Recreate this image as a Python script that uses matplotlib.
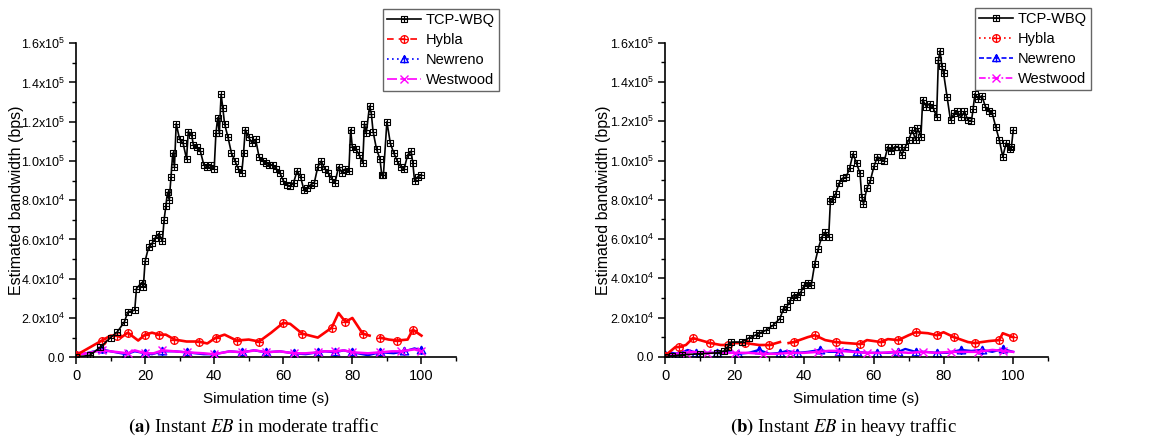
import numpy as np
import matplotlib
matplotlib.use("Agg")
from matplotlib import pyplot as plt
from matplotlib.path import Path
from matplotlib.lines import Line2D
from matplotlib.ticker import MultipleLocator, FuncFormatter

plt.rcParams['font.family'] = ['Liberation Sans', 'DejaVu Sans']

SCALE = 1e4  # values below are in units of 10^4 bps

# ---- panel (a): moderate traffic ----
t_wbq_a = [0, 4, 7, 10, 12, 14, 15, 17, 17.5, 19, 19.5, 20, 21, 22, 23, 24, 25, 25.5, 26, 26.5,
           27, 27.5, 28, 28.5, 29, 30, 31, 32, 32.5, 33.5, 34, 35, 36, 37, 38, 39, 40, 40.5,
           41, 41.5, 42, 42.5, 43, 44, 45, 46, 47, 48, 48.5, 49, 50, 51, 52, 53, 54, 55, 56,
           57, 58, 59, 60, 61, 62, 63, 64, 65, 66, 67, 68, 69, 70, 71, 72, 73, 74, 75, 76, 77,
           78, 79, 79.5, 80, 81, 82, 83, 83.5, 84, 85, 85.5, 86, 87, 88, 88.5, 89, 90, 91, 92,
           93, 94, 95, 96, 97, 97.5, 98, 99, 100]
wbq_a = [0, 0.1, 0.5, 1.0, 1.3, 1.8, 2.3, 2.4, 3.5, 3.8, 3.6, 4.9, 5.6, 5.8, 6.1, 6.3, 5.9, 7.0, 7.7, 8.4,
         8.0, 9.2, 10.4, 9.7, 11.9, 11.1, 10.9, 10.1, 11.5, 11.3, 10.8, 10.7, 10.5, 9.8, 9.7, 9.8, 9.6, 11.4,
         12.2, 11.4, 13.4, 12.7, 11.9, 11.2, 10.4, 10.0, 9.6, 9.4, 10.4, 11.6, 11.2, 10.9, 11.1, 10.2, 10.0, 9.9, 9.8,
         9.8, 9.6, 9.4, 9.0, 8.8, 8.7, 8.9, 9.5, 9.2, 8.5, 8.6, 8.8, 8.9, 9.7, 10.0, 9.6, 9.4, 9.1, 8.9, 9.7, 9.4,
         9.6, 9.5, 11.6, 10.7, 10.6, 10.3, 9.9, 11.9, 11.4, 12.8, 12.4, 11.5, 10.6, 10.1, 9.3, 9.3, 12.0, 10.9, 10.4,
         10.0, 9.7, 9.6, 10.3, 10.5, 9.9, 9.0, 9.2, 9.3]

t_hybla_a = [0, 4, 7.5, 10, 12, 13, 15, 18, 20, 22, 24, 26, 28.5, 32, 35.5, 38, 40.5, 43, 46.5, 50,
             53, 56.5, 60, 62, 65.5, 70, 74, 76, 78, 80, 83, 85, 86, 87.5, 88, 90.5, 93, 96, 97.5, 100]
hybla_a = [0.1, 0.5, 0.85, 1.1, 1.1, 1.0, 1.25, 0.85, 1.15, 1.25, 1.15, 1.15, 0.9, 0.8, 0.8, 0.7, 1.0, 1.15, 0.85, 0.9,
           0.8, 1.25, 1.75, 1.7, 1.2, 1.0, 1.5, 2.25, 1.8, 2.0, 1.2, 1.1, np.nan, np.nan, 1.0, 0.9, 0.85, 0.9, 1.4, 1.1]

t_newreno_a = [0, 3, 7.5, 10, 14.5, 17, 20, 22, 25, 28.5, 32, 37, 40, 44.5, 48, 51.5, 55, 59, 63, 66.5,
               70, 72, 75, 77.5, 80, 84.5, 88, 92, 95, 98, 100]
newreno_a = [0.1, 0.2, 0.4, 0.3, 0.15, 0.3, 0.2, 0.15, 0.3, 0.3, 0.25, 0.15, 0.15, 0.3, 0.25, 0.35, 0.25, 0.3, 0.2, 0.15,
             0.25, 0.3, 0.25, 0.35, 0.25, 0.1, 0.25, 0.2, 0.3, 0.45, 0.35]

t_westwood_a = [0, 3, 7.5, 10, 15, 17, 20, 22.5, 25, 28.5, 32, 37, 40, 44.5, 48, 52, 55, 59, 63, 66.5,
                70, 72, 75, 77.5, 80, 84.5, 88, 91.5, 94, 98, 100]
westwood_a = [0.1, 0.2, 0.35, 0.3, 0.2, 0.35, 0.2, 0.2, 0.35, 0.3, 0.25, 0.2, 0.15, 0.3, 0.25, 0.35, 0.25, 0.3, 0.2, 0.2,
              0.25, 0.3, 0.3, 0.35, 0.25, 0.2, 0.25, 0.3, 0.3, 0.4, 0.3]

# ---- panel (b): heavy traffic ----
t_wbq_b = [0, 2, 5, 10, 15, 17, 18, 19, 22, 24, 26, 27, 29, 31, 33, 34, 35, 36, 37, 38, 39, 40, 41, 42,
           43, 44, 45, 46, 47, 47.5, 48, 49, 50, 51, 52, 53, 54, 55, 56, 56.5, 57, 58, 59, 60, 61, 62,
           63, 64, 65, 66, 67, 68, 69, 70, 71, 72, 72.5, 73.5, 74, 75, 76, 77, 78, 78.5, 79, 79.5, 80,
           81, 82, 83, 84, 85, 86, 87, 88, 88.5, 89, 90, 91, 92, 93, 94, 95, 96, 97, 98, 99, 99.5, 100]
wbq_b = [0, 0.05, 0.1, 0.15, 0.2, 0.3, 0.5, 0.75, 0.75, 0.95, 1.1, 1.2, 1.35, 1.6, 1.95, 2.45, 2.55, 2.9, 3.15, 3.05, 3.3, 3.65, 3.75, 3.65,
         4.75, 5.5, 6.1, 6.35, 6.1, 7.95, 8.05, 8.3, 8.85, 9.1, 9.15, 9.6, 10.35, 9.85, 9.35, 8.15, 7.8, 8.6, 9.0, 9.7, 10.2, 10.05,
         10.0, 10.7, 10.5, 10.7, 10.7, 10.3, 10.7, 11.05, 11.55, 11.05, 11.65, 11.2, 13.1, 12.75, 12.9, 12.7, 12.2, 15.1, 15.6, 14.8, 14.45,
         13.25, 12.05, 12.4, 12.5, 12.2, 12.5, 12.05, 12.0, 12.65, 13.4, 13.15, 13.3, 12.75, 12.5, 12.4, 11.7, 11.05, 10.2, 10.9, 10.6, 10.7, 11.55]

t_hybla_b = [0, 3, 4, 6, 8, 10, 13, 16, 18, 20, 23, 27, 30, 33, 34, 35.5, 37, 41, 43, 46, 49, 52, 56, 58,
             62, 64, 67, 70, 72, 75.5, 78, 80, 83, 87, 89, 93, 96, 97, 100]
hybla_b = [0.05, 0.5, 0.5, 0.6, 0.95, 0.85, 0.7, 0.6, 0.6, 0.7, 0.7, 0.6, 0.6, 0.75, np.nan, 0.7, 0.75, 1.0, 1.1, 0.85, 0.75, 0.7, 0.65, 0.85,
           0.75, 0.9, 0.85, 1.1, 1.25, 1.2, 1.1, 1.25, 1.0, 0.75, 0.7, 0.8, 0.85, 1.2, 1.0]

t_newreno_b = [0, 2, 4, 6.5, 9, 12, 15, 18, 21, 24, 27, 30, 33, 35, 38, 41, 44.5, 47, 50, 52, 55, 58, 61, 64,
               67, 69, 72, 75, 78, 81, 85, 88, 91, 94, 97, 100]
newreno_b = [0.1, 0.2, 0.15, 0.35, 0.2, 0.2, 0.2, 0.25, 0.15, 0.2, 0.35, 0.15, 0.2, 0.3, 0.2, 0.25, 0.35, 0.25, 0.25, 0.35, 0.25, 0.2, 0.2, 0.2,
             0.25, 0.4, 0.25, 0.25, 0.2, 0.2, 0.35, 0.3, 0.35, 0.25, 0.4, 0.25]

t_westwood_b = [0, 3, 6, 8, 12, 16, 20, 24, 28, 32, 36, 40, 44, 47, 50, 54, 58, 62, 66, 70, 74, 78, 82, 86,
                90, 94, 97, 100]
westwood_b = [0.05, 0.15, 0.2, 0.25, 0.2, 0.2, 0.2, 0.2, 0.15, 0.15, 0.2, 0.2, 0.25, 0.3, 0.3, 0.25, 0.2, 0.2, 0.25, 0.2, 0.25, 0.2, 0.25, 0.25,
              0.25, 0.35, 0.3, 0.25]

labels = ['TCP-WBQ', 'Hybla', 'Newreno', 'Westwood']
captions = [(r'$\mathbf{(a)}$ Instant $\mathit{EB}$ in moderate traffic'),
            (r'$\mathbf{(b)}$ Instant $\mathit{EB}$ in heavy traffic')]


def square_plus():
    verts = [(-1, -1), (1, -1), (1, 1), (-1, 1), (-1, -1), (-1, 0), (1, 0), (0, -1), (0, 1)]
    codes = [Path.MOVETO, Path.LINETO, Path.LINETO, Path.LINETO, Path.CLOSEPOLY,
             Path.MOVETO, Path.LINETO, Path.MOVETO, Path.LINETO]
    return Path(verts, codes)


def circle_plus():
    circ = Path.unit_circle()
    cross = Path([(-1, 0), (1, 0), (0, -1), (0, 1)],
                 [Path.MOVETO, Path.LINETO, Path.MOVETO, Path.LINETO])
    return Path.make_compound_path(circ, cross)


def tri_line():
    verts = [(-1, -0.8), (1, -0.8), (0, 1), (-1, -0.8), (0, -1), (0, 1)]
    codes = [Path.MOVETO, Path.LINETO, Path.LINETO, Path.CLOSEPOLY, Path.MOVETO, Path.LINETO]
    return Path(verts, codes)


M_SQ = square_plus()
M_CI = circle_plus()
M_TR = tri_line()


def fmt_y(v, pos):
    if abs(v) < 1:
        return '0.0'
    if v < 0:
        return ''
    e = int(np.floor(np.log10(v) + 1e-9))
    m = v / 10 ** e
    return r'$\mathregular{%.1fx10^{%d}}$' % (m, e)


def draw_panel(ax, data, legend_styles, legend_anchor):
    (tw, w), (th, h), (tn, n), (tx, x) = data
    ax.plot(tn, np.array(n) * SCALE, color='blue', lw=1.6, marker=M_TR, ms=6,
            mfc='none', mew=1.0, markevery=2, zorder=2)
    ax.plot(tx, np.array(x) * SCALE, color='magenta', lw=1.8, marker='x', ms=6,
            mew=1.0, markevery=2, zorder=3)
    ax.plot(th, np.array(h) * SCALE, color='red', lw=1.9, marker=M_CI, ms=5.5,
            mfc='none', mew=0.9, markevery=2, zorder=4)
    ax.plot(tw, np.array(w) * SCALE, color='black', lw=1.2, marker=M_SQ, ms=4,
            mfc='none', mew=0.8, markevery=1, zorder=5)

    ax.set_xlim(0, 110)
    ax.set_ylim(0, 1.6e5)
    ax.xaxis.set_major_locator(MultipleLocator(20))
    ax.xaxis.set_minor_locator(MultipleLocator(10))
    ax.yaxis.set_major_locator(MultipleLocator(2e4))
    ax.yaxis.set_minor_locator(MultipleLocator(1e4))
    ax.yaxis.set_major_formatter(FuncFormatter(fmt_y))
    ax.xaxis.set_major_formatter(FuncFormatter(lambda v, p: '%d' % v if 0 <= v <= 100 else ''))
    for s in ['top', 'right']:
        ax.spines[s].set_visible(False)
    for s in ['left', 'bottom']:
        ax.spines[s].set_linewidth(1.2)
    ax.tick_params(which='major', direction='out', length=5, width=1.1, labelsize=10.5)
    ax.tick_params(axis='y', which='major', labelsize=9, pad=3)
    ax.tick_params(which='minor', direction='out', length=3, width=1.0)
    ax.set_xlabel('Simulation time (s)', fontsize=11)
    ax.set_ylabel('Estimated bandwidth (bps)', fontsize=11.5)
    ax.xaxis.set_label_coords(0.5, -0.112)

    handles = [
        Line2D([], [], color='black', lw=1.2, ls=legend_styles[0], marker=M_SQ, ms=4, mfc='none', mew=0.8),
        Line2D([], [], color='red', lw=1.2, ls=legend_styles[1], marker=M_CI, ms=5.5, mfc='none', mew=0.9),
        Line2D([], [], color='blue', lw=1.2, ls=legend_styles[2], marker=M_TR, ms=5.5, mfc='none', mew=1.0),
        Line2D([], [], color='magenta', lw=1.2, ls=legend_styles[3], marker='x', ms=6, mew=1.0),
    ]
    leg = ax.legend(handles, labels, loc='upper right', bbox_to_anchor=legend_anchor,
                    bbox_transform=fig.transFigure, fontsize=10.5, frameon=True, fancybox=False,
                    handlelength=2.3, handletextpad=0.35, borderpad=0.3, labelspacing=0.4,
                    borderaxespad=0)
    leg.get_frame().set_edgecolor('#404040')
    leg.get_frame().set_linewidth(1.0)


fig = plt.figure(figsize=(11.57, 4.41), dpi=100)
ax1 = fig.add_axes([0.0657, 0.190, 0.3284, 0.712])
ax2 = fig.add_axes([0.5748, 0.191, 0.331, 0.712])

draw_panel(ax1,
           [(t_wbq_a, wbq_a), (t_hybla_a, hybla_a), (t_newreno_a, newreno_a), (t_westwood_a, westwood_a)],
           ['-', (0, (4, 3)), (0, (1, 2)), (0, (6, 2, 2, 2))],
           (499 / 1157, 1 - 9 / 441))
draw_panel(ax2,
           [(t_wbq_b, wbq_b), (t_hybla_b, hybla_b), (t_newreno_b, newreno_b), (t_westwood_b, westwood_b)],
           ['-', (0, (1, 2)), (0, (3, 1.5)), (0, (4, 1.5, 1, 1.5))],
           (1091 / 1157, 1 - 8 / 441))
ax1.yaxis.set_label_coords(-0.138, 0.5)
ax2.yaxis.set_label_coords(-0.14, 0.5)

fig.text(253 / 1157, 1 - 427 / 441, captions[0], ha='center', va='center', fontsize=13.5,
         family='Liberation Serif', math_fontfamily='stix')
fig.text(843 / 1157, 1 - 427 / 441, captions[1], ha='center', va='center', fontsize=13.5,
         family='Liberation Serif', math_fontfamily='stix')

fig.savefig('out.png', dpi=100)
